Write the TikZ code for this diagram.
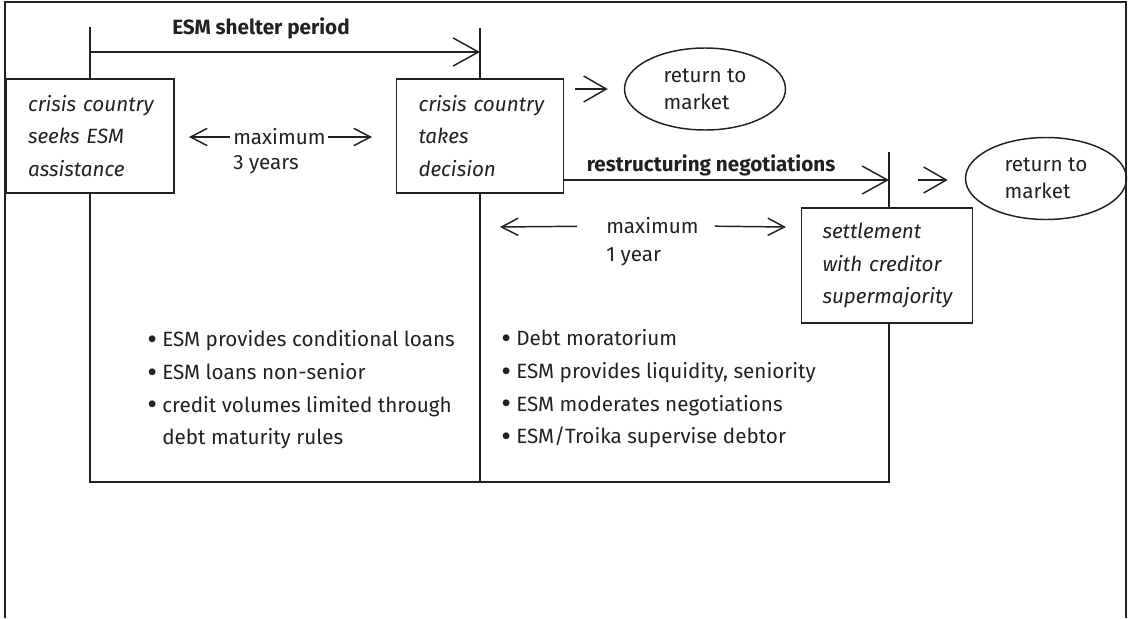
\documentclass[tikz,border=0pt]{standalone}
\usepackage{fontspec}
\usepackage{graphicx}
\setmainfont{Fira Sans}
\usetikzlibrary{arrows.meta,shapes.geometric,calc}
\newdimen\pxu \pxu=0.75pt
\newcommand{\fs}{\fontsize{15.5}{24.5}\selectfont}
\newcommand{\bul}{\makebox[15\pxu][l]{\raisebox{-0.12em}{\scalebox{1.45}{\textbullet}}}}
\definecolor{ink}{rgb}{0.13,0.13,0.13}
\tikzset{
  every node/.style={font=\fs, text=ink, inner sep=0pt},
  ln/.style={draw=ink, line width=1.1pt},
  box/.style={ln, align=left, font=\fs\itshape, minimum height=114\pxu,
              inner xsep=22\pxu, text width=124\pxu},
  ell/.style={ln, ellipse, align=left, font=\fontsize{15.5}{20}\selectfont,
              minimum width=161\pxu, minimum height=82\pxu},
  bigarr/.style={ln, -{Straight Barb[length=19pt,width=21pt]}},
  midarr/.style={ln, -{Straight Barb[length=17pt,width=19.5pt]}},
  smallarr/.style={ln, -{Straight Barb[length=12.5pt,width=13pt]}},
}
\begin{document}
\begin{tikzpicture}[x=0.75pt,y=-0.75pt]
\useasboundingbox (0,0) rectangle (1128,618);
% outer frame (open at bottom)
\draw[draw=ink, line width=1.5pt] (5,618) -- (5,2) -- (1126,2) -- (1126,618);

% boxes
\node[box] (lbox) at (90,136) {\mbox{crisis country}\\\mbox{seeks ESM}\\\mbox{assistance}};
\node[box, text width=123\pxu] (mbox) at (480,136) {\mbox{crisis country}\\\mbox{takes}\\\mbox{decision}};
\node[box, inner xsep=21\pxu, text width=129\pxu, minimum height=115\pxu] (sbox) at (887,265.5) {\mbox{settlement}\\\mbox{with creditor}\\\mbox{supermajority}};

% ESM shelter period
\node[font=\fs\bfseries] (shelter) at (261,28) {ESM shelter period};
\coordinate (t1top) at (90,27);
\coordinate (t2top) at (480,28);
\coordinate (shy) at (0,52);
\draw[ln] (t1top) -- (lbox.north);
\draw[ln] (t2top) -- (mbox.north);
\draw[bigarr] (lbox.north |- shy) -- (mbox.north |- shy);

% maximum 3 years
\node[anchor=west] (max1) at (233,137) {maximum};
\node[anchor=west] (yrs1) at (233,165) {3 years};
\coordinate (m1l) at (189,137);
\coordinate (m1r) at (372,137);
\draw[smallarr, shorten <=3\pxu] (max1.west) -- (m1l);
\draw[smallarr, shorten <=2\pxu] (max1.east) -- (m1r);

% return to market 1
\node[ell] (ell1) at (705,89) {return to\\market};
\draw[midarr] ([xshift=-49\pxu]ell1.west) -- ([xshift=-16\pxu]ell1.west);

% restructuring negotiations
\node[font=\fs\bfseries] (restr) at (711,165) {restructuring negotiations};
\coordinate (t3top) at (889,152);
\coordinate (ry) at (0,180);
\draw[ln] (t3top) -- (sbox.north -| t3top);
\draw[bigarr] (mbox.east |- ry) -- (t3top |- ry);

% return to market 2
\node[ell] (ell2) at (1046,178.5) {return to\\market};
\draw[midarr] ([xshift=-47\pxu]ell2.west |- ry) -- ([xshift=-17\pxu]ell2.west |- ry);

% maximum 1 year
\node[anchor=west] (max2) at (606,226) {maximum};
\node[anchor=west] (yrs2) at (606,257) {1 year};
\coordinate (m2l) at (500,227);
\coordinate (m2r) at (786,227);
\draw[smallarr, shorten <=29\pxu] (max2.west) -- (m2l);
\draw[smallarr, shorten <=16\pxu] (max2.east) -- (m2r);

% lower frame lines
\coordinate (bl) at (0,482);
\coordinate (sb) at (889,323);
\draw[ln, line width=1.3pt] (lbox.south) -- (lbox.south |- bl) -- (sb |- bl) -- (sb);
\draw[ln] (mbox.south) -- (mbox.south |- bl);

% bullet lists
\node[anchor=west, align=left] (list1) at (147,390)
  {\bul ESM provides conditional loans\\
   \bul ESM loans non-senior\\
   \bul credit volumes limited through\\
   \hphantom{\bul}debt maturity rules};
\node[anchor=west, align=left] (list2) at (501,389)
  {\bul Debt moratorium\\
   \bul ESM provides liquidity, seniority\\
   \bul ESM moderates negotiations\\
   \bul ESM/Troika supervise debtor};
\end{tikzpicture}
\end{document}
